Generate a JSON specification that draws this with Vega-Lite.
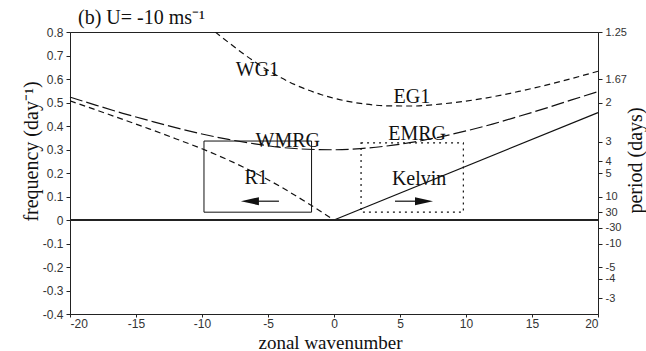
{
  "$schema": "https://vega.github.io/schema/vega-lite/v6.json",
  "width": 528,
  "height": 282,
  "autosize": "none",
  "padding": {"left": 70, "top": 32, "right": 48, "bottom": 37},
  "title": {"text": "(b) U= -10 ms⁻¹", "anchor": "start", "frame": "group", "font": "Liberation Serif", "fontSize": 20, "fontWeight": "normal", "color": "#111", "offset": 5, "dx": 8, "dy": 7},
  "config": {
    "locale": {"number": {"decimal": ".", "thousands": ",", "grouping": [3], "currency": ["$", ""], "minus": "-"}},
    "title": {"font": "Liberation Serif", "fontWeight": "normal"},
    "view": {"stroke": "#222", "strokeWidth": 1},
    "axis": {"grid": false, "domainColor": "#222", "tickColor": "#222", "labelFont": "Liberation Sans", "labelFontSize": 12, "labelColor": "#333", "labelOverlap": false, "labelBound": false, "titleFont": "Liberation Serif", "titleFontSize": 20, "titleFontWeight": "normal", "titleColor": "#111", "tickSize": 4, "labelPadding": 3}
  },
  "datasets": {
    "curves": [
      {"wave": "R1", "k": -20, "f": 0.507},
      {"wave": "R1", "k": -18, "f": 0.468},
      {"wave": "R1", "k": -16, "f": 0.428},
      {"wave": "R1", "k": -14, "f": 0.388},
      {"wave": "R1", "k": -12, "f": 0.346},
      {"wave": "R1", "k": -10, "f": 0.303},
      {"wave": "R1", "k": -8, "f": 0.255},
      {"wave": "R1", "k": -6, "f": 0.201},
      {"wave": "R1", "k": -4, "f": 0.140},
      {"wave": "R1", "k": -2, "f": 0.072},
      {"wave": "R1", "k": 0, "f": 0.0},
      {"wave": "G1", "k": -9, "f": 0.800},
      {"wave": "G1", "k": -8, "f": 0.756},
      {"wave": "G1", "k": -7, "f": 0.713},
      {"wave": "G1", "k": -6, "f": 0.673},
      {"wave": "G1", "k": -5, "f": 0.637},
      {"wave": "G1", "k": -4, "f": 0.605},
      {"wave": "G1", "k": -3, "f": 0.577},
      {"wave": "G1", "k": -2, "f": 0.554},
      {"wave": "G1", "k": -1, "f": 0.534},
      {"wave": "G1", "k": 0, "f": 0.518},
      {"wave": "G1", "k": 2, "f": 0.496},
      {"wave": "G1", "k": 4, "f": 0.486},
      {"wave": "G1", "k": 6, "f": 0.485},
      {"wave": "G1", "k": 8, "f": 0.493},
      {"wave": "G1", "k": 10, "f": 0.506},
      {"wave": "G1", "k": 12, "f": 0.524},
      {"wave": "G1", "k": 14, "f": 0.547},
      {"wave": "G1", "k": 16, "f": 0.573},
      {"wave": "G1", "k": 18, "f": 0.602},
      {"wave": "G1", "k": 20, "f": 0.633},
      {"wave": "MRG", "k": -20, "f": 0.523},
      {"wave": "MRG", "k": -18, "f": 0.488},
      {"wave": "MRG", "k": -16, "f": 0.454},
      {"wave": "MRG", "k": -14, "f": 0.423},
      {"wave": "MRG", "k": -12, "f": 0.393},
      {"wave": "MRG", "k": -10, "f": 0.366},
      {"wave": "MRG", "k": -8, "f": 0.343},
      {"wave": "MRG", "k": -6, "f": 0.324},
      {"wave": "MRG", "k": -4, "f": 0.309},
      {"wave": "MRG", "k": -2, "f": 0.301},
      {"wave": "MRG", "k": 0, "f": 0.299},
      {"wave": "MRG", "k": 2, "f": 0.304},
      {"wave": "MRG", "k": 4, "f": 0.315},
      {"wave": "MRG", "k": 6, "f": 0.331},
      {"wave": "MRG", "k": 8, "f": 0.353},
      {"wave": "MRG", "k": 10, "f": 0.379},
      {"wave": "MRG", "k": 12, "f": 0.408},
      {"wave": "MRG", "k": 14, "f": 0.441},
      {"wave": "MRG", "k": 16, "f": 0.475},
      {"wave": "MRG", "k": 18, "f": 0.511},
      {"wave": "MRG", "k": 20, "f": 0.546},
      {"wave": "Kelvin", "k": 0, "f": 0.0},
      {"wave": "Kelvin", "k": 20, "f": 0.457}
    ],
    "labels": [
      {"k": -5.8, "f": 0.637, "label": "WG1"},
      {"k": 5.9, "f": 0.525, "label": "EG1"},
      {"k": -3.5, "f": 0.337, "label": "WMRG"},
      {"k": 6.3, "f": 0.365, "label": "EMRG"},
      {"k": -5.9, "f": 0.18, "label": "R1"},
      {"k": 6.45, "f": 0.176, "label": "Kelvin"}
    ]
  },
  "layer": [
    {
      "layer": [
        {
          "data": {"name": "curves"},
          "transform": [{"filter": "datum.wave == 'R1' || datum.wave == 'G1'"}],
          "mark": {"type": "line", "color": "#111", "strokeWidth": 1.2, "strokeDash": [6, 4], "interpolate": "monotone", "clip": true},
          "encoding": {
            "x": {"field": "k", "type": "quantitative", "scale": {"domain": [-20, 20], "nice": false, "zero": false},
              "axis": {"values": [-20, -15, -10, -5, 0, 5, 10, 15, 20], "format": "d", "labelOverlap": false, "tickSize": 3, "labelPadding": 1, "title": "zonal wavenumber", "titleX": 260, "titleY": 28, "titleBaseline": "middle", "titleFontSize": 19}},
            "y": {"field": "f", "type": "quantitative", "scale": {"domain": [-0.4, 0.8], "nice": false, "zero": false}, "axis": null},
            "detail": {"field": "wave"}
          }
        },
        {
          "data": {"name": "curves"},
          "transform": [{"filter": "datum.wave == 'MRG'"}],
          "mark": {"type": "line", "color": "#111", "strokeWidth": 1.2, "strokeDash": [13, 4], "interpolate": "monotone"},
          "encoding": {
            "x": {"field": "k", "type": "quantitative"},
            "y": {"field": "f", "type": "quantitative", "axis": null}
          }
        },
        {
          "data": {"name": "curves"},
          "transform": [{"filter": "datum.wave == 'Kelvin'"}],
          "mark": {"type": "line", "color": "#111", "strokeWidth": 1.2},
          "encoding": {
            "x": {"field": "k", "type": "quantitative"},
            "y": {"field": "f", "type": "quantitative", "axis": null}
          }
        },
        {
          "data": {"values": [{"k": -9.85, "k2": -1.7, "f": 0.0333, "f2": 0.336}]},
          "mark": {"type": "rect", "fillOpacity": 0, "stroke": "#111", "strokeWidth": 1},
          "encoding": {
            "x": {"field": "k", "type": "quantitative"}, "x2": {"field": "k2"},
            "y": {"field": "f", "type": "quantitative", "axis": null}, "y2": {"field": "f2"}
          }
        },
        {
          "data": {"values": [{"k": 2.05, "k2": 9.8, "f": 0.0333, "f2": 0.328}]},
          "mark": {"type": "rect", "fillOpacity": 0, "stroke": "#111", "strokeWidth": 1.2, "strokeDash": [2, 4]},
          "encoding": {
            "x": {"field": "k", "type": "quantitative"}, "x2": {"field": "k2"},
            "y": {"field": "f", "type": "quantitative", "axis": null}, "y2": {"field": "f2"}
          }
        },
        {
          "data": {"values": [{"k": -6.4, "k2": -4.17, "f": 0.08}, {"k": 4.62, "k2": 6.8, "f": 0.08}]},
          "mark": {"type": "rule", "color": "#111", "strokeWidth": 1.2},
          "encoding": {
            "x": {"field": "k", "type": "quantitative"}, "x2": {"field": "k2"},
            "y": {"field": "f", "type": "quantitative", "axis": null}
          }
        },
        {
          "data": {"values": [{"k": -6.37, "f": 0.08}]},
          "mark": {"type": "point", "shape": "M -1 0 L 1 -0.45 L 1 0.45 Z", "size": 324, "filled": true, "color": "#111", "opacity": 1},
          "encoding": {
            "x": {"field": "k", "type": "quantitative"},
            "y": {"field": "f", "type": "quantitative", "axis": null}
          }
        },
        {
          "data": {"values": [{"k": 6.82, "f": 0.08}]},
          "mark": {"type": "point", "shape": "M 1 0 L -1 -0.45 L -1 0.45 Z", "size": 324, "filled": true, "color": "#111", "opacity": 1},
          "encoding": {
            "x": {"field": "k", "type": "quantitative"},
            "y": {"field": "f", "type": "quantitative", "axis": null}
          }
        },
        {
          "data": {"name": "labels"},
          "mark": {"type": "text", "font": "Liberation Serif", "fontSize": 20, "color": "#111", "baseline": "middle", "align": "center"},
          "encoding": {
            "x": {"field": "k", "type": "quantitative"},
            "y": {"field": "f", "type": "quantitative", "axis": null},
            "text": {"field": "label"}
          }
        }
      ]
    },
    {
      "data": {"values": [{"k": -20, "k2": 20, "f": 0}]},
      "mark": {"type": "rule", "color": "#222", "strokeWidth": 2},
      "encoding": {
        "x": {"field": "k", "type": "quantitative"}, "x2": {"field": "k2"},
        "y": {"field": "f", "type": "quantitative", "scale": {"domain": [-0.4, 0.8], "nice": false, "zero": false},
          "axis": {"orient": "left", "values": [-0.4, -0.3, -0.2, -0.1, 0, 0.1, 0.2, 0.3, 0.4, 0.5, 0.6, 0.7, 0.8], "labelOverlap": false, "format": "~g", "title": "frequency (day⁻¹)", "titleX": -39, "titleY": 119, "titleBaseline": "middle", "titleAlign": "center"}}
      }
    },
    {
      "data": {"values": [{"k": -20, "k2": 20, "f": 0}]},
      "mark": {"type": "rule", "opacity": 0},
      "encoding": {
        "x": {"field": "k", "type": "quantitative"}, "x2": {"field": "k2"},
        "y": {"field": "f", "type": "quantitative", "scale": {"domain": [-0.4, 0.8], "nice": false, "zero": false},
          "axis": {"orient": "right", "values": [0.8, 0.6, 0.5, 0.3333333333333333, 0.25, 0.2, 0.1, 0.03333333333333333, -0.03333333333333333, -0.1, -0.2, -0.25, -0.3333333333333333],
            "labelExpr": "format(1/datum.value, '.3~r')", "labelFontSize": 11, "title": "period (days)", "titleAngle": 270, "titleX": 37, "titleY": 128, "titleBaseline": "middle", "titleAlign": "center"}}
      }
    }
  ],
  "resolve": {"scale": {"y": "independent"}}
}
